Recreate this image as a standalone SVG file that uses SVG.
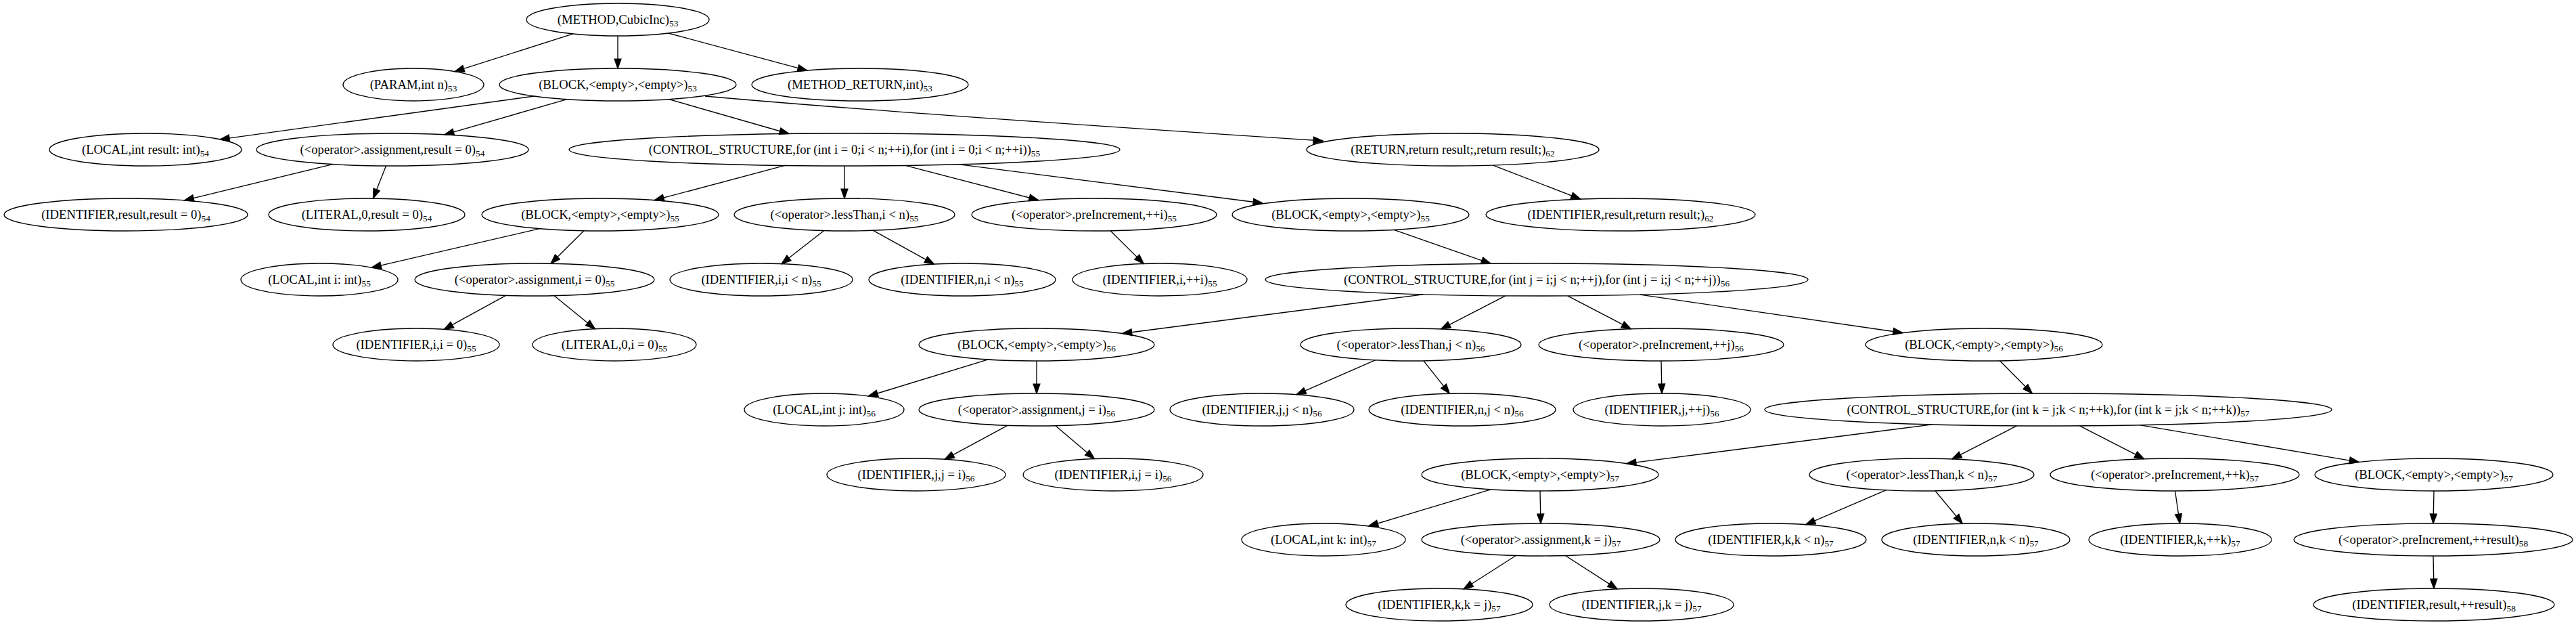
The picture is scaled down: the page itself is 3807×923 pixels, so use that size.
<svg xmlns="http://www.w3.org/2000/svg" width="3807" height="923" viewBox="0 0 3807 923">
<style>
.n ellipse{fill:none;stroke:#000;stroke-width:1.33}
.n text{font-family:"Liberation Serif","Times New Roman",serif;font-size:18.67px;fill:#000;text-anchor:middle}
.n tspan{font-size:13.33px}
#edges line,#edges path{stroke:#000;stroke-width:1.33;fill:none;marker-end:url(#arr)}
</style>
<defs>
<marker id="arr" markerUnits="userSpaceOnUse" markerWidth="16" markerHeight="12" viewBox="-1 -1 15.3 11.3" refX="13.3" refY="4.67" orient="auto">
<path d="M0,0 L13.3,4.67 L0,9.33 Z" fill="#000" stroke="#000" stroke-width="1.33"/>
</marker>
</defs>
<rect width="3807" height="923" fill="#fff"/>
<g id="edges">
<line x1="847.1" y1="49.9" x2="672.1" y2="105.6"/>
<line x1="913" y1="53" x2="913" y2="101"/>
<line x1="987.6" y1="49" x2="1192.9" y2="104.1"/>
<line x1="789.4" y1="142" x2="325.1" y2="205.9"/>
<line x1="837.8" y1="146.7" x2="656.9" y2="198.8"/>
<line x1="988.5" y1="146.6" x2="1166" y2="197.5"/>
<path d="M1042,142 C1300,165 1650,188 1955,208"/>
<line x1="491.5" y1="242.6" x2="272.4" y2="295.9"/>
<line x1="570.5" y1="245" x2="551.5" y2="293"/>
<line x1="1159.9" y1="244.4" x2="967.2" y2="295.7"/>
<line x1="1248" y1="245" x2="1248" y2="293"/>
<line x1="1338" y1="244.4" x2="1534.8" y2="295.6"/>
<line x1="1417.9" y1="242.8" x2="1866" y2="300"/>
<line x1="2206.6" y1="244.1" x2="2335.8" y2="294.1"/>
<line x1="797.8" y1="337.6" x2="549.3" y2="395.1"/>
<line x1="863" y1="340.8" x2="814" y2="389.2"/>
<line x1="1217.8" y1="340.6" x2="1155" y2="389.6"/>
<line x1="1290" y1="340.2" x2="1380.5" y2="390.1"/>
<line x1="1641" y1="340.8" x2="1690.2" y2="389.4"/>
<line x1="2060" y1="339.3" x2="2203.2" y2="389.3"/>
<line x1="747.5" y1="436.3" x2="656.2" y2="486.4"/>
<line x1="819.1" y1="436.7" x2="879.3" y2="485.7"/>
<line x1="2103.2" y1="434.8" x2="1658.7" y2="492.5"/>
<line x1="2224.8" y1="436.8" x2="2129.7" y2="485.9"/>
<line x1="2316.7" y1="436.8" x2="2410.4" y2="485.7"/>
<line x1="2423.8" y1="435.2" x2="2811.8" y2="491.5"/>
<line x1="1460.4" y1="530.9" x2="1283.4" y2="585"/>
<line x1="1532" y1="533" x2="1532" y2="581"/>
<line x1="2032.9" y1="531.7" x2="1916" y2="582.7"/>
<line x1="2103.9" y1="532.8" x2="2142.2" y2="581.2"/>
<line x1="2455" y1="533" x2="2456" y2="581"/>
<line x1="2955.5" y1="532.8" x2="3003.3" y2="581"/>
<line x1="1488.9" y1="628.3" x2="1396.2" y2="678.3"/>
<line x1="1559.9" y1="628.7" x2="1617.4" y2="677.5"/>
<line x1="2855.7" y1="626.9" x2="2404" y2="684.6"/>
<line x1="2980.5" y1="628.9" x2="2885" y2="677.9"/>
<line x1="3073.5" y1="628.9" x2="3168.7" y2="677.7"/>
<line x1="3161.9" y1="627.7" x2="3486.2" y2="682.3"/>
<line x1="2203.2" y1="722.8" x2="2022.7" y2="777"/>
<line x1="2276" y1="725" x2="2277" y2="773"/>
<line x1="2787.1" y1="723.8" x2="2668.8" y2="774.7"/>
<line x1="2859.9" y1="724.8" x2="2900.2" y2="773.2"/>
<line x1="3214.5" y1="725" x2="3221.5" y2="773"/>
<line x1="3597" y1="725" x2="3596" y2="773"/>
<line x1="2240.3" y1="820.5" x2="2163.2" y2="869.8"/>
<line x1="2313.4" y1="820.5" x2="2390.1" y2="869.9"/>
<line x1="3596" y1="821" x2="3597" y2="869"/>
</g>
<g id="n1" class="n"><ellipse cx="913" cy="29" rx="135" ry="24"/><text x="913" y="34.5">(METHOD,CubicInc)<tspan dy="4.5">53</tspan></text></g>
<g id="n2" class="n"><ellipse cx="611" cy="125" rx="104" ry="24"/><text x="611" y="130.5">(PARAM,int n)<tspan dy="4.5">53</tspan></text></g>
<g id="n3" class="n"><ellipse cx="913" cy="125" rx="175" ry="24"/><text x="913" y="130.5">(BLOCK,&lt;empty&gt;,&lt;empty&gt;)<tspan dy="4.5">53</tspan></text></g>
<g id="n4" class="n"><ellipse cx="1271" cy="125" rx="160" ry="24"/><text x="1271" y="130.5">(METHOD_RETURN,int)<tspan dy="4.5">53</tspan></text></g>
<g id="n5" class="n"><ellipse cx="215" cy="221" rx="142" ry="24"/><text x="215" y="226.5">(LOCAL,int result: int)<tspan dy="4.5">54</tspan></text></g>
<g id="n6" class="n"><ellipse cx="580" cy="221" rx="201" ry="24"/><text x="580" y="226.5">(&lt;operator&gt;.assignment,result = 0)<tspan dy="4.5">54</tspan></text></g>
<g id="n7" class="n"><ellipse cx="1248" cy="221" rx="407" ry="24"/><text x="1248" y="226.5">(CONTROL_STRUCTURE,for (int i = 0;i &lt; n;++i),for (int i = 0;i &lt; n;++i))<tspan dy="4.5">55</tspan></text></g>
<g id="n8" class="n"><ellipse cx="2147" cy="221" rx="216" ry="24"/><text x="2147" y="226.5">(RETURN,return result;,return result;)<tspan dy="4.5">62</tspan></text></g>
<g id="n9" class="n"><ellipse cx="186" cy="317" rx="180" ry="24"/><text x="186" y="322.5">(IDENTIFIER,result,result = 0)<tspan dy="4.5">54</tspan></text></g>
<g id="n10" class="n"><ellipse cx="542" cy="317" rx="145" ry="24"/><text x="542" y="322.5">(LITERAL,0,result = 0)<tspan dy="4.5">54</tspan></text></g>
<g id="n11" class="n"><ellipse cx="887" cy="317" rx="175" ry="24"/><text x="887" y="322.5">(BLOCK,&lt;empty&gt;,&lt;empty&gt;)<tspan dy="4.5">55</tspan></text></g>
<g id="n12" class="n"><ellipse cx="1248" cy="317" rx="163" ry="24"/><text x="1248" y="322.5">(&lt;operator&gt;.lessThan,i &lt; n)<tspan dy="4.5">55</tspan></text></g>
<g id="n13" class="n"><ellipse cx="1617" cy="317" rx="181" ry="24"/><text x="1617" y="322.5">(&lt;operator&gt;.preIncrement,++i)<tspan dy="4.5">55</tspan></text></g>
<g id="n14" class="n"><ellipse cx="1996" cy="317" rx="175" ry="24"/><text x="1996" y="322.5">(BLOCK,&lt;empty&gt;,&lt;empty&gt;)<tspan dy="4.5">55</tspan></text></g>
<g id="n15" class="n"><ellipse cx="2395" cy="317" rx="199" ry="24"/><text x="2395" y="322.5">(IDENTIFIER,result,return result;)<tspan dy="4.5">62</tspan></text></g>
<g id="n16" class="n"><ellipse cx="472" cy="413" rx="116" ry="24"/><text x="472" y="418.5">(LOCAL,int i: int)<tspan dy="4.5">55</tspan></text></g>
<g id="n17" class="n"><ellipse cx="790" cy="413" rx="177" ry="24"/><text x="790" y="418.5">(&lt;operator&gt;.assignment,i = 0)<tspan dy="4.5">55</tspan></text></g>
<g id="n18" class="n"><ellipse cx="1125" cy="413" rx="135" ry="24"/><text x="1125" y="418.5">(IDENTIFIER,i,i &lt; n)<tspan dy="4.5">55</tspan></text></g>
<g id="n19" class="n"><ellipse cx="1422" cy="413" rx="138" ry="24"/><text x="1422" y="418.5">(IDENTIFIER,n,i &lt; n)<tspan dy="4.5">55</tspan></text></g>
<g id="n20" class="n"><ellipse cx="1714" cy="413" rx="129" ry="24"/><text x="1714" y="418.5">(IDENTIFIER,i,++i)<tspan dy="4.5">55</tspan></text></g>
<g id="n21" class="n"><ellipse cx="2271" cy="413" rx="401" ry="24"/><text x="2271" y="418.5">(CONTROL_STRUCTURE,for (int j = i;j &lt; n;++j),for (int j = i;j &lt; n;++j))<tspan dy="4.5">56</tspan></text></g>
<g id="n22" class="n"><ellipse cx="615" cy="509" rx="123" ry="24"/><text x="615" y="514.5">(IDENTIFIER,i,i = 0)<tspan dy="4.5">55</tspan></text></g>
<g id="n23" class="n"><ellipse cx="908" cy="509" rx="121" ry="24"/><text x="908" y="514.5">(LITERAL,0,i = 0)<tspan dy="4.5">55</tspan></text></g>
<g id="n24" class="n"><ellipse cx="1532" cy="509" rx="174" ry="24"/><text x="1532" y="514.5">(BLOCK,&lt;empty&gt;,&lt;empty&gt;)<tspan dy="4.5">56</tspan></text></g>
<g id="n25" class="n"><ellipse cx="2085" cy="509" rx="163" ry="24"/><text x="2085" y="514.5">(&lt;operator&gt;.lessThan,j &lt; n)<tspan dy="4.5">56</tspan></text></g>
<g id="n26" class="n"><ellipse cx="2455" cy="509" rx="181" ry="24"/><text x="2455" y="514.5">(&lt;operator&gt;.preIncrement,++j)<tspan dy="4.5">56</tspan></text></g>
<g id="n27" class="n"><ellipse cx="2932" cy="509" rx="175" ry="24"/><text x="2932" y="514.5">(BLOCK,&lt;empty&gt;,&lt;empty&gt;)<tspan dy="4.5">56</tspan></text></g>
<g id="n28" class="n"><ellipse cx="1218" cy="605" rx="118" ry="24"/><text x="1218" y="610.5">(LOCAL,int j: int)<tspan dy="4.5">56</tspan></text></g>
<g id="n29" class="n"><ellipse cx="1532" cy="605" rx="174" ry="24"/><text x="1532" y="610.5">(&lt;operator&gt;.assignment,j = i)<tspan dy="4.5">56</tspan></text></g>
<g id="n30" class="n"><ellipse cx="1865" cy="605" rx="136" ry="24"/><text x="1865" y="610.5">(IDENTIFIER,j,j &lt; n)<tspan dy="4.5">56</tspan></text></g>
<g id="n31" class="n"><ellipse cx="2161" cy="605" rx="138" ry="24"/><text x="2161" y="610.5">(IDENTIFIER,n,j &lt; n)<tspan dy="4.5">56</tspan></text></g>
<g id="n32" class="n"><ellipse cx="2456" cy="605" rx="131" ry="24"/><text x="2456" y="610.5">(IDENTIFIER,j,++j)<tspan dy="4.5">56</tspan></text></g>
<g id="n33" class="n"><ellipse cx="3027" cy="605" rx="419" ry="24"/><text x="3027" y="610.5">(CONTROL_STRUCTURE,for (int k = j;k &lt; n;++k),for (int k = j;k &lt; n;++k))<tspan dy="4.5">57</tspan></text></g>
<g id="n34" class="n"><ellipse cx="1354" cy="701" rx="132" ry="24"/><text x="1354" y="706.5">(IDENTIFIER,j,j = i)<tspan dy="4.5">56</tspan></text></g>
<g id="n35" class="n"><ellipse cx="1645" cy="701" rx="133" ry="24"/><text x="1645" y="706.5">(IDENTIFIER,i,j = i)<tspan dy="4.5">56</tspan></text></g>
<g id="n36" class="n"><ellipse cx="2276" cy="701" rx="175" ry="24"/><text x="2276" y="706.5">(BLOCK,&lt;empty&gt;,&lt;empty&gt;)<tspan dy="4.5">57</tspan></text></g>
<g id="n37" class="n"><ellipse cx="2840" cy="701" rx="166" ry="24"/><text x="2840" y="706.5">(&lt;operator&gt;.lessThan,k &lt; n)<tspan dy="4.5">57</tspan></text></g>
<g id="n38" class="n"><ellipse cx="3214" cy="701" rx="184" ry="24"/><text x="3214" y="706.5">(&lt;operator&gt;.preIncrement,++k)<tspan dy="4.5">57</tspan></text></g>
<g id="n39" class="n"><ellipse cx="3597" cy="701" rx="176" ry="24"/><text x="3597" y="706.5">(BLOCK,&lt;empty&gt;,&lt;empty&gt;)<tspan dy="4.5">57</tspan></text></g>
<g id="n40" class="n"><ellipse cx="1956" cy="797" rx="121" ry="24"/><text x="1956" y="802.5">(LOCAL,int k: int)<tspan dy="4.5">57</tspan></text></g>
<g id="n41" class="n"><ellipse cx="2277" cy="797" rx="176" ry="24"/><text x="2277" y="802.5">(&lt;operator&gt;.assignment,k = j)<tspan dy="4.5">57</tspan></text></g>
<g id="n42" class="n"><ellipse cx="2617" cy="797" rx="141" ry="24"/><text x="2617" y="802.5">(IDENTIFIER,k,k &lt; n)<tspan dy="4.5">57</tspan></text></g>
<g id="n43" class="n"><ellipse cx="2920" cy="797" rx="139" ry="24"/><text x="2920" y="802.5">(IDENTIFIER,n,k &lt; n)<tspan dy="4.5">57</tspan></text></g>
<g id="n44" class="n"><ellipse cx="3222" cy="797" rx="135" ry="24"/><text x="3222" y="802.5">(IDENTIFIER,k,++k)<tspan dy="4.5">57</tspan></text></g>
<g id="n45" class="n"><ellipse cx="3596" cy="797" rx="206" ry="24"/><text x="3596" y="802.5">(&lt;operator&gt;.preIncrement,++result)<tspan dy="4.5">58</tspan></text></g>
<g id="n46" class="n"><ellipse cx="2127" cy="893" rx="138" ry="24"/><text x="2127" y="898.5">(IDENTIFIER,k,k = j)<tspan dy="4.5">57</tspan></text></g>
<g id="n47" class="n"><ellipse cx="2426" cy="893" rx="136" ry="24"/><text x="2426" y="898.5">(IDENTIFIER,j,k = j)<tspan dy="4.5">57</tspan></text></g>
<g id="n48" class="n"><ellipse cx="3597" cy="893" rx="178" ry="24"/><text x="3597" y="898.5">(IDENTIFIER,result,++result)<tspan dy="4.5">58</tspan></text></g>
</svg>
